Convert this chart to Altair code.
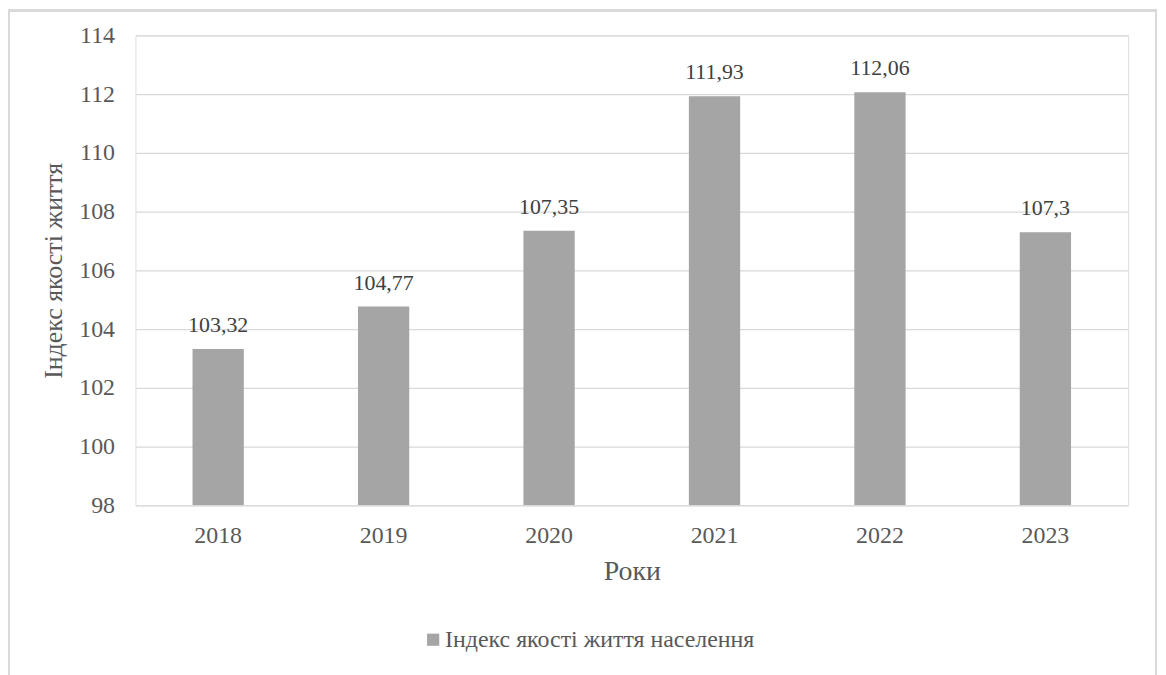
import altair as alt
import pandas as pd

years = ["2018", "2019", "2020", "2021", "2022", "2023"]
values = [103.32, 104.77, 107.35, 111.93, 112.06, 107.3]
labels = ["103,32", "104,77", "107,35", "111,93", "112,06", "107,3"]
series_name = "Індекс якості життя населення"
y_min, y_max = 98, 114

df = pd.DataFrame({"year": years, "value": values, "label": labels, "series": series_name})

FONT = "Liberation Serif"
W, H = 997, 472
PL, PT = 128, 26

x = alt.X("year:N", sort=years, title="Роки",
          scale=alt.Scale(paddingInner=0.69, paddingOuter=0.345),
          axis=alt.Axis(labelAngle=0, labelPadding=18, titlePadding=11, ticks=False,
                        domain=False, labelFontSize=24, titleFontSize=28,
                        labelColor="#595959", titleColor="#595959",
                        labelFont=FONT, titleFont=FONT, titleFontWeight="normal"))
y = alt.Y("value:Q", title="Індекс якості життя",
          scale=alt.Scale(domain=[y_min, y_max], zero=False, nice=False),
          axis=alt.Axis(values=list(range(y_min, y_max + 1, 2)), ticks=False, domain=False,
                        labelPadding=21, titlePadding=12, labelFontSize=24, titleFontSize=26,
                        labelColor="#595959", titleColor="#595959",
                        labelFont=FONT, titleFont=FONT, titleFontWeight="normal",
                        gridColor="#d9d9d9", gridWidth=1.3))

bars = alt.Chart(df).mark_bar(color="#a5a5a5", clip=True).encode(
    x=x, y=y, y2=alt.datum(y_min),
    color=alt.Color("series:N", scale=alt.Scale(range=["#a5a5a5"]),
                    legend=alt.Legend(title=None, orient="none", legendX=287, legendY=595,
                                      symbolType="square", symbolSize=150, labelLimit=0,
                                      labelOffset=0,
                                      labelFont=FONT, labelFontSize=24, labelColor="#595959",
                                      symbolStrokeWidth=0))
)

text = alt.Chart(df).mark_text(baseline="alphabetic", dy=-17, font=FONT, fontSize=22,
                               color="#404040").encode(
    x=alt.X("year:N", sort=years), y="value:Q", text="label:N")

border = alt.Chart(df).mark_rect(fill=None, stroke="#d9d9d9", strokeWidth=2, clip=False).encode(
    x=alt.value(-PL + 1), x2=alt.value(1025), y=alt.value(-PT + 1), y2=alt.value(700))

chart = alt.layer(border, bars, text).properties(
    width=W, height=H,
    autosize=alt.AutoSizeParams(type="none"),
    padding={"left": PL, "top": PT, "right": 30, "bottom": 175},
).configure_view(stroke=None).configure(background="white", font=FONT)

chart.save("out.html", embed_options={"renderer": "svg", "actions": False})
